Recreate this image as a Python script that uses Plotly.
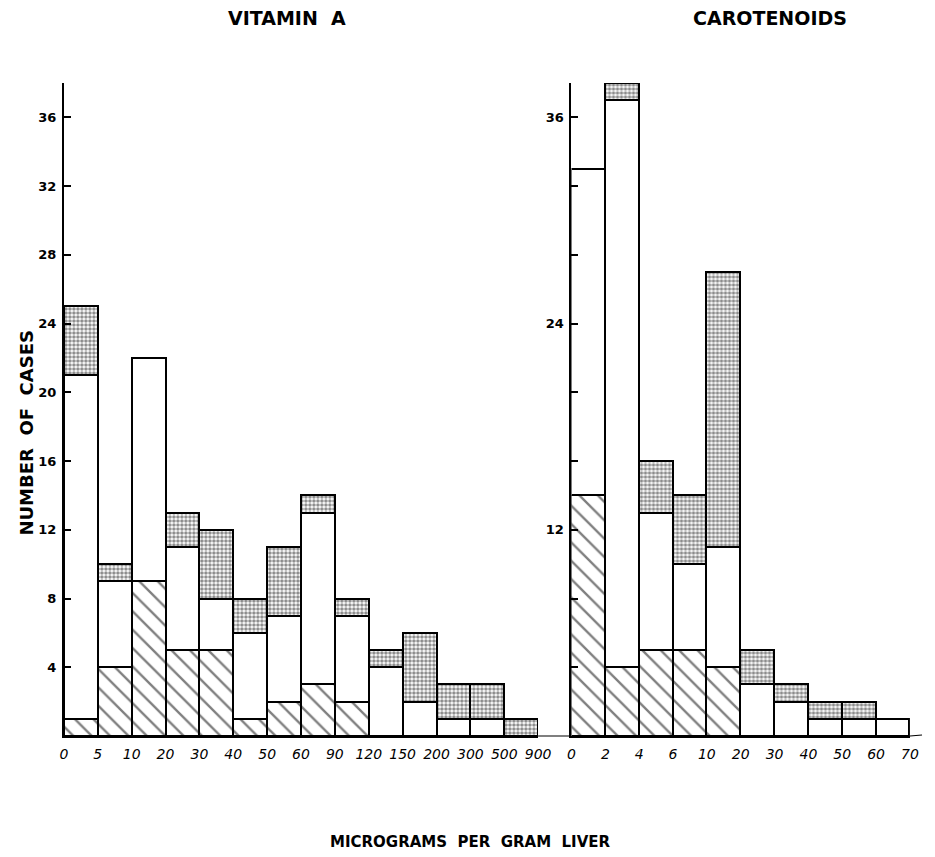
import plotly.graph_objects as go

# ---------------- data ----------------
va_bins = ["0", "5", "10", "20", "30", "40", "50", "60", "90", "120", "150", "200", "300", "500", "900"]
va_hatched = [1, 4, 9, 5, 5, 1, 2, 3, 2, 0, 0, 0, 0, 0]
va_plain = [20, 5, 13, 6, 3, 5, 5, 10, 5, 4, 2, 1, 1, 0]
va_dotted = [4, 1, 0, 2, 4, 2, 4, 1, 1, 1, 4, 2, 2, 1]

ca_bins = ["0", "2", "4", "6", "10", "20", "30", "40", "50", "60", "70"]
ca_hatched = [14, 4, 5, 5, 4, 0, 0, 0, 0, 0]
ca_plain = [19, 33, 8, 5, 7, 3, 2, 1, 1, 1]
ca_dotted = [0, 1, 3, 4, 16, 2, 1, 1, 1, 0]

y_ticks = [4, 8, 12, 16, 20, 24, 28, 32, 36]

W, H = 935, 857
SP = "\u00a0\u00a0"


def px_x(p):
    return p / W


def px_y(p):
    return 1 - p / H


def nz(v):
    return [x if x else None for x in v]


LINE = dict(color="black", width=2.2)
hatch = dict(shape="\\", size=13, solidity=0.18, fgcolor="black", bgcolor="white")
dots = dict(shape=".", size=4, solidity=0.6, fgcolor="#1a1a1a", bgcolor="white")

fig = go.Figure()


def add_panel(hatched, plain, dotted, xa, ya):
    xs = [i + 0.5 for i in range(len(hatched))]
    fig.add_trace(go.Bar(x=xs, y=nz(hatched), width=1, xaxis=xa, yaxis=ya,
                         marker=dict(color="white", line=LINE, pattern=hatch),
                         showlegend=False, hoverinfo="skip"))
    fig.add_trace(go.Bar(x=xs, y=nz(plain), width=1, xaxis=xa, yaxis=ya,
                         marker=dict(color="white", line=LINE),
                         showlegend=False, hoverinfo="skip"))
    fig.add_trace(go.Bar(x=xs, y=nz(dotted), width=1, xaxis=xa, yaxis=ya,
                         marker=dict(color="white", line=LINE, pattern=dots),
                         showlegend=False, hoverinfo="skip"))


add_panel(va_hatched, va_plain, va_dotted, "x", "y")
add_panel(ca_hatched, ca_plain, ca_dotted, "x2", "y2")

xfont = dict(family="DejaVu Sans, sans-serif", size=14, color="black", style="italic")
yfont = dict(family="DejaVu Sans, sans-serif", size=13, color="black", weight="bold")

ydom = [px_y(736), px_y(83)]

fig.update_layout(
    width=W, height=H,
    margin=dict(l=0, r=0, t=0, b=0),
    paper_bgcolor="white", plot_bgcolor="white",
    barmode="stack", bargap=0,
    xaxis=dict(domain=[px_x(61), px_x(544)], range=[0, len(va_hatched)],
               tickvals=list(range(len(va_bins))), ticktext=va_bins,
               tickfont=xfont, showgrid=False, zeroline=False,
               showline=True, linecolor="black", linewidth=1.5, ticks="",
               ticklabelstandoff=4),
    yaxis=dict(domain=ydom, range=[0, 38], tickvals=y_ticks,
               ticktext=[str(v) for v in y_ticks], tickfont=yfont,
               ticks="inside", ticklen=7, tickwidth=1.5, tickcolor="black",
               showgrid=False, zeroline=False, ticklabelstandoff=3,
               showline=True, linecolor="black", linewidth=2),
    xaxis2=dict(domain=[px_x(578), px_x(922.7)], range=[0, len(ca_hatched)],
                tickvals=list(range(len(ca_bins))), ticktext=ca_bins,
                tickfont=xfont, showgrid=False, zeroline=False,
                showline=True, linecolor="black", linewidth=1.5, ticks="",
                ticklabelstandoff=4, anchor="y2"),
    yaxis2=dict(domain=ydom, range=[0, 38], anchor="x2", tickvals=y_ticks,
                ticktext=[str(v) if v in (12, 24, 36) else "" for v in y_ticks],
                tickfont=yfont, ticklabelstandoff=3,
                ticks="inside", ticklen=7, tickwidth=1.5, tickcolor="black",
                showgrid=False, zeroline=False,
                showline=True, linecolor="black", linewidth=2),
)

# connecting baseline pieces
fig.add_shape(type="line", xref="paper", yref="paper",
              x0=px_x(544), x1=px_x(578), y0=px_y(736), y1=px_y(736),
              line=dict(color="black", width=1.2))
fig.add_shape(type="line", xref="paper", yref="paper",
              x0=px_x(922.7), x1=px_x(935), y0=px_y(736), y1=px_y(735),
              line=dict(color="black", width=1.2))

tfam = "DejaVu Sans, sans-serif"
fig.add_annotation(text="VITAMIN" + SP + "A", xref="paper", yref="paper", x=px_x(288), y=px_y(18),
                   showarrow=False, font=dict(family=tfam, size=19, color="black", weight="bold"),
                   xanchor="center", yanchor="middle")
fig.add_annotation(text="CAROTENOIDS", xref="paper", yref="paper", x=px_x(780), y=px_y(18),
                   showarrow=False, font=dict(family=tfam, size=19, color="black", weight="bold"),
                   xanchor="center", yanchor="middle")
fig.add_annotation(text="NUMBER" + SP + "OF" + SP + "CASES", xref="paper", yref="paper",
                   x=px_x(22), y=px_y(433),
                   showarrow=False, font=dict(family=tfam, size=18, color="black", weight="bold"),
                   textangle=-90, xanchor="center", yanchor="middle")
fig.add_annotation(text="MICROGRAMS" + SP + "PER" + SP + "GRAM" + SP + "LIVER", xref="paper", yref="paper",
                   x=px_x(475), y=px_y(842), showarrow=False,
                   font=dict(family=tfam, size=15, color="black", weight="bold"),
                   xanchor="center", yanchor="middle")

fig.write_html("out.html")
